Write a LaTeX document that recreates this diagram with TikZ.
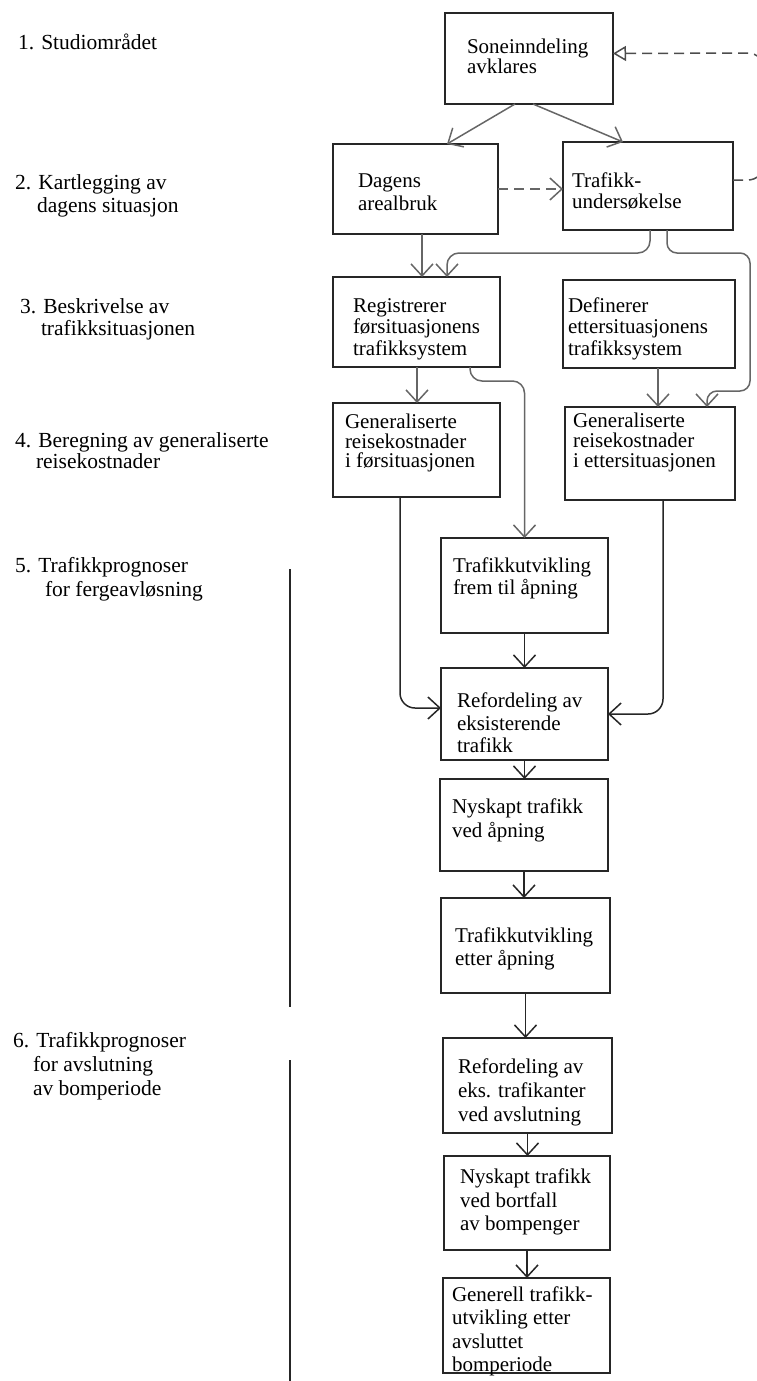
\documentclass[tikz,border=0pt]{standalone}
\usepackage{fontspec}
\setmainfont{Liberation Serif}
\usetikzlibrary{arrows.meta}
\tikzset{
  bx/.style={draw=black!85, line width=1.6pt, fill=white, rectangle, inner sep=0pt, outer sep=0pt, anchor=north west},
  txt/.style={anchor=base west, inner sep=0pt, outer sep=0pt, font=\fontsize{21}{22}\selectfont},
  lbl/.style={txt, font=\fontsize{21.5}{23}\selectfont},
  arr/.style={draw=black!85, line width=1.5pt, -{Straight Barb[length=12pt,width=22pt]}},
  garr/.style={arr, draw=black!60},
  dsh/.style={dash pattern=on 10pt off 6pt},
  bar/.style={draw=black!85, line width=1.5pt}
}
\newcommand\bxat[5]{\node[bx, minimum width=#4pt, minimum height=#5pt] (#1) at (#2,#3) {};}
\newcommand\Tline[4]{\node[txt] (#1) at (#2,#3) {#4};}
\newcommand\Lline[4]{\node[lbl] (#1) at (#2,#3) {#4};}
\begin{document}
\begin{tikzpicture}[x=1pt,y=-1pt]
\useasboundingbox (0,0) rectangle (757,1381);
% left labels
\Lline{l1a}{18}{49}{1. Studiområdet}
\Lline{l2a}{15}{189}{2. Kartlegging av}
\Lline{l2b}{37}{212}{dagens situasjon}
\Lline{l3a}{20}{313}{3. Beskrivelse av}
\Lline{l3b}{41}{335}{trafikksituasjonen}
\Lline{l4a}{15}{447}{4. Beregning av generaliserte}
\Lline{l4b}{36}{468}{reisekostnader}
\Lline{l5a}{15}{572}{5. Trafikkprognoser}
\Lline{l5b}{45}{596}{for fergeavløsning}
\Lline{l6a}{13}{1047}{6. Trafikkprognoser}
\Lline{l6b}{33}{1071}{for avslutning}
\Lline{l6c}{33}{1095}{av bomperiode}
% bracket lines
\coordinate (b1s) at (290,569);
\coordinate (b1e) at (290,1007);
\coordinate (b2s) at (290,1060);
\coordinate (b2e) at (290,1381);
\draw[bar] (b1s) -- (b1e);
\draw[bar] (b2s) -- (b2e);
% boxes
\bxat{sone}{445}{13}{168}{91}
\bxat{dagens}{333}{144}{165}{90}
\bxat{trafu}{563}{142}{170}{88}
\bxat{reg}{333}{277}{167}{90}
\bxat{def}{563}{280}{172}{88}
\bxat{genl}{333}{403}{167}{94}
\bxat{genr}{565}{407}{170}{93}
\bxat{tuf}{441}{538}{167}{95}
\bxat{ref}{441}{668}{167}{92}
\bxat{ny}{440}{779}{168}{92}
\bxat{tue}{441}{898}{169}{95}
\bxat{refe}{443}{1038}{169}{95}
\bxat{nyb}{444}{1156}{166}{94}
\bxat{gen}{443}{1278}{167}{95}
% box texts
\Tline{sone1}{467}{53}{Soneinndeling}
\Tline{sone2}{467}{74}{avklares}
\Tline{dag1}{358}{187}{Dagens}
\Tline{dag2}{358}{210}{arealbruk}
\Tline{tra1}{572}{187}{Trafikk-}
\Tline{tra2}{572}{208}{undersøkelse}
\Tline{reg1}{353}{312}{Registrerer}
\Tline{reg2}{353}{333}{førsituasjonens}
\Tline{reg3}{353}{355}{trafikksystem}
\Tline{def1}{568}{312}{Definerer}
\Tline{def2}{568}{333}{ettersituasjonens}
\Tline{def3}{568}{355}{trafikksystem}
\Tline{gl1}{345}{428}{Generaliserte}
\Tline{gl2}{345}{448}{reisekostnader}
\Tline{gl3}{345}{467}{i førsituasjonen}
\Tline{gr1}{573}{427}{Generaliserte}
\Tline{gr2}{573}{447}{reisekostnader}
\Tline{gr3}{573}{467}{i ettersituasjonen}
\Tline{tuf1}{453}{572}{Trafikkutvikling}
\Tline{tuf2}{453}{594}{frem til åpning}
\Tline{ref1}{457}{707}{Refordeling av}
\Tline{ref2}{457}{730}{eksisterende}
\Tline{ref3}{457}{752}{trafikk}
\Tline{ny1}{452}{813}{Nyskapt trafikk}
\Tline{ny2}{452}{837}{ved åpning}
\Tline{tue1}{455}{942}{Trafikkutvikling}
\Tline{tue2}{455}{965}{etter åpning}
\Tline{refe1}{458}{1073}{Refordeling av}
\Tline{refe2}{458}{1097}{eks. trafikanter}
\Tline{refe3}{458}{1121}{ved avslutning}
\Tline{nyb1}{460}{1183}{Nyskapt trafikk}
\Tline{nyb2}{460}{1207}{ved bortfall}
\Tline{nyb3}{460}{1230}{av bompenger}
\Tline{gen1}{452}{1301}{Generell trafikk-}
\Tline{gen2}{452}{1324}{utvikling etter}
\Tline{gen3}{452}{1348}{avsluttet}
\Tline{gen4}{452}{1371}{bomperiode}
% connectors
\draw[garr] ([xshift=70pt]sone.south west) -- ([xshift=114pt]dagens.north west);
\draw[garr] ([xshift=88pt]sone.south west) -- ([xshift=60pt]trafu.north west);
\draw[garr,dsh] (dagens.east) -- (dagens.east -| trafu.west);
\draw[draw=black!70, line width=1.5pt, dsh, rounded corners=16pt, -{Triangle[open,length=13pt,width=15pt]}]
  ([yshift=6pt]trafu.east) -- (764,180) -- (764,53) -- ([yshift=5pt]sone.east);
\draw[garr] ([xshift=89pt]dagens.south west) -- ([xshift=89pt]reg.north west);
\draw[garr, rounded corners=12pt] ([xshift=87pt]trafu.south west) |- ([xshift=114pt,yshift=24pt]reg.north west) -- ([xshift=114pt]reg.north west);
\draw[garr, rounded corners=10pt] ([xshift=104pt]trafu.south west) |- (750,253) |- ([xshift=142pt,yshift=16pt]genr.north west) -- ([xshift=142pt]genr.north west);
\draw[garr] ([xshift=84pt]reg.south west) -- ([xshift=84pt]genl.north west);
\draw[garr, rounded corners=12pt] ([xshift=137pt]reg.south west) |- ([yshift=157pt]tuf.north) -- (tuf.north);
\draw[garr] ([xshift=95pt]def.south west) -- ([xshift=93pt]genr.north west);
\draw[arr, rounded corners=15pt] ([xshift=67pt]genl.south west) |- ([yshift=6pt]ref.west);
\draw[arr, rounded corners=15pt] ([xshift=98pt]genr.south west) |- (ref.east);
\draw[arr] (tuf.south) -- (ref.north);
\draw[arr] (ref.south) -- (ref.south |- ny.north);
\draw[arr] (ny.south) -- (ny.south |- tue.north);
\draw[arr] (tue.south) -- (tue.south |- refe.north);
\draw[arr] (refe.south) -- (refe.south |- nyb.north);
\draw[arr] (nyb.south) -- (nyb.south |- gen.north);
\end{tikzpicture}
\end{document}
